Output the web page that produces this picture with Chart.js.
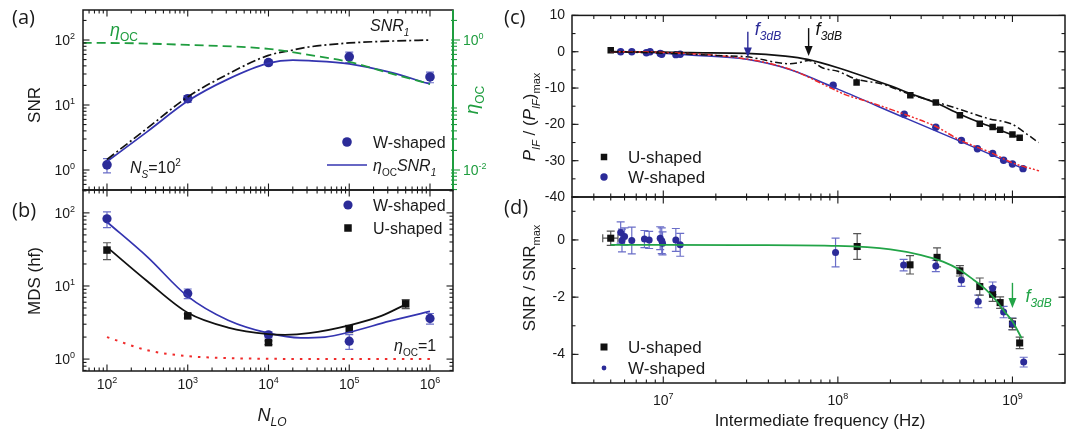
<!DOCTYPE html>
<html>
<head>
<meta charset="utf-8">
<title>SNR, MDS and IF response</title>
<script src="https://cdn.jsdelivr.net/npm/chart.js@4.4.1/dist/chart.umd.min.js"></script>
<style>
body{margin:0;background:#fff;}
#fig{position:relative;width:1077px;height:435px;}
#fig canvas{position:absolute;left:0;top:0;}
</style>
</head>
<body>
<div id="fig">
<canvas id="chartA" width="1077" height="435"></canvas>
<canvas id="chartB" width="1077" height="435"></canvas>
<canvas id="chartC" width="1077" height="435"></canvas>
<canvas id="chartD" width="1077" height="435"></canvas>
</div>
<script>
// ---------- panel (a): SNR vs N_LO ----------
const aTicksX = [1e2, 1e3, 1e4, 1e5, 1e6];
const aTicksY = [1, 10, 100];
const aTicksEta = [0.01, 1];
const aPointX = [1e2, 1e3, 1e4, 1e5, 1e6];
const aSnrW = [1.2, 12.5, 45, 55, 27];
const aSnrWErr = [0.3, 1.5, 4, 10, 5];
const aCurveX = [1e2, 3.16e2, 1e3, 3.16e3, 1e4, 2e4, 3.16e4, 1e5, 3.16e5, 1e6];
const aSnr1 = [1.45, 4.4, 13.3, 30, 58, 70, 78, 90, 96, 100];
const aEtaSnr1 = [1.35, 3.9, 11.5, 25, 44, 49, 48, 43, 32, 21];
const aEtaX = [5e1, 1e2, 1e3, 1e4, 3.16e4, 1e5, 3.16e5, 1e6];
const aEta = [0.9, 0.9, 0.84, 0.73, 0.59, 0.46, 0.31, 0.21];

// ---------- panel (b): MDS vs N_LO ----------
const bTicksX = [1e2, 1e3, 1e4, 1e5, 1e6];
const bTicksY = [1, 10, 100];
const bWx = [1e2, 1e3, 1e4, 1e5, 1e6];
const bW = [83, 7.9, 2.15, 1.76, 3.6];
const bWErr = [20, 1.2, 0.2, 0.4, 0.6];
const bUx = [1e2, 1e3, 1e4, 1e5, 5e5];
const bU = [31, 3.9, 1.68, 2.6, 5.7];
const bUErr = [8, 0.25, 0.1, 0.3, 0.8];
const bBlueX = [1e2, 3.16e2, 1e3, 3.16e3, 1e4, 2.5e4, 5e4, 1e5, 3.16e5, 1e6];
const bBlue = [75, 25, 7.2, 3.4, 2.26, 1.95, 2.0, 2.33, 3.3, 4.5];
const bBlackX = [1e2, 3.16e2, 1e3, 3.16e3, 1e4, 1.6e4, 3.16e4, 1e5, 2.5e5, 5e5];
const bBlack = [34, 11.6, 4.3, 2.7, 2.19, 2.15, 2.26, 2.9, 3.9, 5.6];
const bRedX = [1e2, 3.16e2, 1e3, 3.16e3, 1e4, 1e5, 1e6];
const bRed = [2.0, 1.32, 1.1, 1.03, 1.01, 1.0, 1.0];

// ---------- panel (c): P_IF / (P_IF)max vs IF ----------
const cTicksX = [1e7, 1e8, 1e9];
const cTicksY = [10, 0, -10, -20, -30, -40];
const cUx = [5.0e6, 1.28e8, 2.6e8, 3.64e8, 5.0e8, 6.5e8, 7.7e8, 8.5e8, 1.0e9, 1.1e9];
const cU = [0.4, -8.5, -12.0, -14.0, -17.5, -19.8, -20.7, -21.5, -22.8, -23.7];
const cWx = [5.7e6, 6.6e6, 8.0e6, 8.4e6, 9.6e6, 9.8e6, 1.18e7, 1.25e7, 9.4e7, 2.4e8, 3.64e8, 5.1e8, 6.3e8, 7.7e8, 8.9e8, 1.0e9, 1.15e9];
const cW = [0, 0, -0.3, 0, -0.5, -0.7, -0.8, -0.7, -9.2, -17.2, -20.8, -24.4, -26.7, -28.0, -29.9, -30.9, -32.2];
const cUfitX = [5e6, 1e7, 1.4e7, 3e7, 5e7, 6.7e7, 1e8, 2e8, 2.6e8, 3.6e8, 5e8, 6.5e8, 8.5e8, 1.1e9];
const cUfit = [0, -0.1, -0.27, -0.45, -1.2, -2.1, -4.4, -9.4, -11.5, -14.0, -17.2, -19.5, -21.6, -23.7];
const cUsimX = [5e6, 1e7, 2.2e7, 3e7, 5.3e7, 6e7, 6.8e7, 8.2e7, 1e8, 1.28e8, 1.8e8, 2.6e8, 3.4e8, 4.8e8, 7.4e8, 9.9e8, 1.22e9, 1.41e9];
const cUsim = [0, -0.4, -1.1, -1.4, -3.3, -3.0, -2.4, -4.5, -5.4, -7.6, -8.9, -11.8, -13.4, -15.6, -18.5, -19.9, -22.8, -25.0];
const cWfitX = [5e6, 1e7, 1.4e7, 3e7, 5.3e7, 1e8, 2.5e8, 5e8, 1.15e9];
const cWfit = [0, -0.4, -0.9, -2.1, -4.9, -10.3, -18.5, -24.6, -32.2];
const cWsimX = [5e6, 1e7, 3e7, 5.3e7, 9.4e7, 1.1e8, 1.5e8, 2.4e8, 3.64e8, 5e8, 7.7e8, 1e9, 1.42e9];
const cWsim = [0, -0.2, -2.0, -4.8, -10.3, -11.8, -13.8, -17.2, -20.6, -24.3, -28.0, -30.6, -32.8];
const cArrowX = [3.05e7, 6.8e7];
const cArrowTop = [5.5, 6.5];
const cArrowTip = [-1.6, -1.2];

// ---------- panel (d): SNR / SNRmax vs IF ----------
const dTicksX = [1e7, 1e8, 1e9];
const dTicksY = [0, -2, -4];
const dUx = [5.0e6, 1.29e8, 2.59e8, 3.7e8, 5.0e8, 6.5e8, 7.7e8, 8.5e8, 1.0e9, 1.1e9];
const dU = [0.06, -0.23, -0.87, -0.61, -1.08, -1.63, -1.9, -2.19, -2.94, -3.6];
const dUErr = [0.25, 0.45, 0.32, 0.33, 0.18, 0.3, 0.25, 0.2, 0.2, 0.2];
const dUErrX = [0.5e6, 0, 0, 0, 0, 0, 0, 0, 0, 0];
const dWx = [5.7e6, 5.8e6, 6.0e6, 6.6e6, 7.8e6, 8.3e6, 9.6e6, 9.8e6, 9.9e6, 1.18e7, 1.25e7, 9.7e7, 2.38e8, 3.64e8, 5.1e8, 6.37e8, 7.7e8, 8.9e8, 1.0e9, 1.16e9];
const dW = [0.26, -0.02, 0.12, -0.02, 0.03, 0.0, 0.06, -0.03, -0.12, 0.0, -0.17, -0.44, -0.88, -0.91, -1.4, -2.15, -1.69, -2.52, -2.93, -4.27];
const dWErr = [0.37, 0.4, 0.3, 0.47, 0.3, 0.3, 0.4, 0.45, 0.4, 0.4, 0.4, 0.5, 0.2, 0.2, 0.22, 0.22, 0.22, 0.2, 0.2, 0.17];
const dFitX = [5e6, 1e7, 3e7, 1e8, 2e8, 3e8, 4e8, 5e8, 6e8, 7e8, 8e8, 9e8, 1e9, 1.13e9];
const dFit = [-0.17, -0.17, -0.18, -0.21, -0.33, -0.53, -0.76, -1.05, -1.4, -1.72, -2.09, -2.5, -2.85, -3.44];
const dArrowX = [1e9];
const dArrowTop = [-1.5];
const dArrowTip = [-2.38];

// ---------- look ----------
const W = 1077, H = 435;
const FONT = '"Liberation Sans", Arial, sans-serif';
const PANEL_FONT = '"Open Sans", "Liberation Sans", sans-serif';
const INK = '#1a1a1a';
const BLUE = '#2b2b98';
const BLUE_LINE = '#3434b0';
const BLUE_ERR = '#6a6ec8';
const GREY_ERR = '#555555';
const GREEN = '#1f9d3f';
const RED = '#f02a2a';

const areaA = {l: 83, t: 10, r: 453, b: 190};
const areaB = {l: 83, t: 190, r: 453, b: 371};
const areaC = {l: 572, t: 12, r: 1065, b: 197};
const areaD = {l: 572, t: 197, r: 1065, b: 383};
// room kept for the left axis box (its tick labels live inside it)
const BOX_Y = 60;

const pts = (xs, ys) => xs.map((x, i) => ({x: x, y: ys[i]}));

function logMinor(lo, hi){
    const out = [];
    for(let e = Math.floor(Math.log10(lo)); e <= Math.ceil(Math.log10(hi)); e++){
        for(let m = 2; m <= 9; m++){
            const v = m * Math.pow(10, e);
            if(v > lo && v < hi) out.push(v);
        }
    }
    return out;
}
function steps(lo, hi, step){
    const out = [];
    for(let v = Math.ceil(lo / step) * step; v <= hi + 1e-9; v += step) out.push(+v.toFixed(6));
    return out;
}

function padFor(area, boxes){
    return {
        left: area.l - (boxes.left || 0),
        top: area.t,
        right: W - area.r - (boxes.right || 0),
        bottom: H - area.b - (boxes.bottom || 0)
    };
}

function axis(type, position, min, max, tickVals, opts){
    opts = opts || {};
    const vertical = position === 'left' || position === 'right';
    const box = opts.box || 0;
    return {
        type: type, position: position, min: min, max: max,
        grid: {display: false, drawTicks: false},
        border: {display: false},
        afterFit: s => { if(vertical){ s.width = box; } else { s.height = box; } },
        afterBuildTicks: s => { s.ticks = tickVals.map(v => ({value: v})); },
        ticks: {
            display: opts.show === true,
            autoSkip: false, maxRotation: 0, minRotation: 0,
            padding: opts.pad || 6,
            color: opts.color || INK,
            font: {family: FONT, size: opts.size || 14},
            callback: v => String(v)
        }
    };
}

function curve(data, color, width, dash, yAxisID){
    return {
        data: data, showLine: true, borderColor: color, borderWidth: width,
        borderDash: dash || [], pointRadius: 0, fill: false,
        cubicInterpolationMode: 'monotone', yAxisID: yAxisID || 'y'
    };
}
function marks(data, style, radius, color, errY, errColor, cap){
    return {
        data: data, showLine: false, pointStyle: style, pointRadius: radius,
        backgroundColor: color, borderColor: color, borderWidth: 0,
        errY: errY, errColor: errColor, capW: cap || 4
    };
}

// error bars drawn through the chart's own scales
const errorBars = {
    id: 'errorBars',
    beforeDatasetsDraw(chart){
        const ctx = chart.ctx;
        chart.data.datasets.forEach((ds, i) => {
            if(!ds.errY) return;
            const meta = chart.getDatasetMeta(i);
            const xs = chart.scales[meta.xAxisID], ys = chart.scales[meta.yAxisID];
            ctx.save();
            ctx.strokeStyle = ds.errColor;
            ctx.lineWidth = 1.2;
            ds.data.forEach((p, j) => {
                const e = ds.errY[j];
                const px = xs.getPixelForValue(p.x);
                const c = ds.capW;
                ctx.beginPath();
                if(e){
                    const top = ys.getPixelForValue(p.y + e), bot = ys.getPixelForValue(p.y - e);
                    ctx.moveTo(px, top); ctx.lineTo(px, bot);
                    ctx.moveTo(px - c, top); ctx.lineTo(px + c, top);
                    ctx.moveTo(px - c, bot); ctx.lineTo(px + c, bot);
                }
                if(ds.errX && ds.errX[j]){
                    const py = ys.getPixelForValue(p.y);
                    const l = xs.getPixelForValue(p.x - ds.errX[j]), r = xs.getPixelForValue(p.x + ds.errX[j]);
                    ctx.moveTo(l, py); ctx.lineTo(r, py);
                    ctx.moveTo(l, py - c); ctx.lineTo(l, py + c);
                    ctx.moveTo(r, py - c); ctx.lineTo(r, py + c);
                }
                ctx.stroke();
            });
            ctx.restore();
        });
    }
};
Chart.register(errorBars);

// text with italic / sub / superscript parts
function rich(ctx, parts, x, y, o){
    const size = o.size || 16;
    const fam = o.family || FONT;
    const font = st => (st.indexOf('i') >= 0 ? 'italic ' : '') +
        ((st.indexOf('s') >= 0 || st.indexOf('p') >= 0) ? Math.round(size * 0.64) : size) + 'px ' + fam;
    ctx.save();
    ctx.translate(x, y);
    if(o.rot) ctx.rotate(o.rot);
    ctx.fillStyle = o.color || INK;
    ctx.textBaseline = 'alphabetic';
    let w = 0;
    parts.forEach(p => { ctx.font = font(p[1] || ''); w += ctx.measureText(p[0]).width; });
    let cx = o.align === 'center' ? -w / 2 : (o.align === 'right' ? -w : 0);
    parts.forEach(p => {
        const st = p[1] || '';
        ctx.font = font(st);
        const dy = st.indexOf('s') >= 0 ? size * 0.3 : (st.indexOf('p') >= 0 ? -size * 0.42 : 0);
        ctx.fillText(p[0], cx, dy);
        cx += ctx.measureText(p[0]).width;
    });
    ctx.restore();
}

// box with inward ticks on every side, plus 10^n labels for log axes
function frame(cfg){
    return {
        id: 'frame',
        afterDatasetsDraw(chart){
            const ctx = chart.ctx, a = chart.chartArea;
            const sx = chart.scales.x, sy = chart.scales.y;
            const seg = (x0, y0, x1, y1) => { ctx.beginPath(); ctx.moveTo(x0, y0); ctx.lineTo(x1, y1); ctx.stroke(); };
            const inX = p => p >= a.left - 0.5 && p <= a.right + 0.5;
            const inY = p => p >= a.top - 0.5 && p <= a.bottom + 0.5;
            ctx.save();
            ctx.strokeStyle = INK;
            ctx.lineWidth = 1.1;
            [[cfg.xMajor, 6.5], [cfg.xMinor, 3.5]].forEach(([vals, len]) => vals.forEach(v => {
                const p = sx.getPixelForValue(v);
                if(!inX(p)) return;
                seg(p, a.bottom, p, a.bottom - len);
                seg(p, a.top, p, a.top + len);
            }));
            [[cfg.yMajor, 6.5], [cfg.yMinor, 3.5]].forEach(([vals, len]) => vals.forEach(v => {
                const p = sy.getPixelForValue(v);
                if(!inY(p)) return;
                seg(a.left, p, a.left + len, p);
                if(!cfg.y2) seg(a.right, p, a.right - len, p);
            }));
            if(cfg.y2){
                const s2 = chart.scales.y2;
                ctx.strokeStyle = cfg.y2.color;
                [[cfg.y2.major, 7], [cfg.y2.minor, 4]].forEach(([vals, len]) => vals.forEach(v => {
                    const p = s2.getPixelForValue(v);
                    if(!inY(p)) return;
                    seg(a.right - 2, p, a.right + len, p);
                }));
            }
            ctx.strokeStyle = INK;
            ctx.lineWidth = 1.5;
            ctx.strokeRect(a.left, a.top, a.right - a.left, a.bottom - a.top);
            if(cfg.y2){
                ctx.strokeStyle = cfg.y2.color;
                ctx.lineWidth = 2;
                seg(a.right, a.top, a.right, a.bottom);
            }
            ctx.restore();
            (cfg.labels || []).forEach(L => {
                const s = chart.scales[L.scale];
                L.vals.forEach(v => {
                    const p = s.getPixelForValue(v);
                    const parts = [['10'], [String(Math.round(Math.log10(v))), 'p']];
                    const o = {size: 14, color: L.color || INK};
                    if(L.side === 'left') rich(ctx, parts, a.left - L.pad, p + 5, Object.assign(o, {align: 'right'}));
                    else if(L.side === 'right') rich(ctx, parts, a.right + L.pad, p + 5, o);
                    else rich(ctx, parts, p, a.bottom + L.pad, Object.assign(o, {align: 'center'}));
                });
            });
        }
    };
}

function dot(ctx, x, y, r, color){
    ctx.save(); ctx.fillStyle = color; ctx.beginPath(); ctx.arc(x, y, r, 0, Math.PI * 2); ctx.fill(); ctx.restore();
}
function square(ctx, x, y, side, color){
    ctx.save(); ctx.fillStyle = color; ctx.fillRect(x - side / 2, y - side / 2, side, side); ctx.restore();
}
function arrowDown(ctx, x, y0, y1, color){
    ctx.save();
    ctx.strokeStyle = color; ctx.fillStyle = color; ctx.lineWidth = 1.4;
    ctx.beginPath(); ctx.moveTo(x, y0); ctx.lineTo(x, y1 - 8); ctx.stroke();
    ctx.beginPath(); ctx.moveTo(x - 4, y1 - 10); ctx.lineTo(x + 4, y1 - 10); ctx.lineTo(x, y1); ctx.closePath(); ctx.fill();
    ctx.restore();
}

function baseOptions(area, boxes, scales){
    return {
        responsive: false, animation: false, devicePixelRatio: 1, events: [],
        layout: {padding: padFor(area, boxes)},
        plugins: {legend: {display: false}, tooltip: {enabled: false}},
        scales: scales
    };
}

// ---------- (a) ----------
const aX = [Math.pow(10, 1.703), Math.pow(10, 6.285)];
const aY = [Math.pow(10, -0.3077), Math.pow(10, 2.4615)];
new Chart(document.getElementById('chartA'), {
    type: 'scatter',
    data: {datasets: [
        curve(pts(aEtaX, aEta), GREEN, 1.8, [9, 5], 'y2'),
        curve(pts(aCurveX, aSnr1), '#111111', 1.7, [9, 3, 2, 3]),
        curve(pts(aCurveX, aEtaSnr1), BLUE_LINE, 1.7),
        marks(pts(aPointX, aSnrW), 'circle', 4.8, BLUE, aSnrWErr, BLUE_ERR, 4)
    ]},
    options: baseOptions(areaA, {}, {
        x: axis('logarithmic', 'bottom', aX[0], aX[1], aTicksX),
        y: axis('logarithmic', 'left', aY[0], aY[1], aTicksY),
        y2: axis('logarithmic', 'right', aY[0] / 100, aY[1] / 100, aTicksEta)
    }),
    plugins: [frame({
        xMajor: aTicksX, xMinor: logMinor(aX[0], aX[1]),
        yMajor: aTicksY, yMinor: logMinor(aY[0], aY[1]),
        y2: {major: aTicksEta, minor: logMinor(aY[0] / 100, aY[1] / 100), color: GREEN},
        labels: [
            {scale: 'y', vals: aTicksY, side: 'left', pad: 8},
            {scale: 'y2', vals: aTicksEta, side: 'right', pad: 10, color: GREEN}
        ]
    }), {
        id: 'notesA',
        afterDraw(chart){
            const ctx = chart.ctx;
            rich(ctx, [['(a)']], 12, 24, {size: 20, family: PANEL_FONT});
            rich(ctx, [['SNR']], 40, 105, {size: 17, rot: -Math.PI / 2, align: 'center'});
            rich(ctx, [['\u03b7', 'i'], ['OC', 's']], 478, 100, {size: 19, rot: -Math.PI / 2, align: 'center', color: GREEN});
            rich(ctx, [['SNR', 'i'], ['1', 'is']], 370, 31, {size: 16});
            rich(ctx, [['\u03b7', 'i'], ['OC', 's']], 110, 36, {size: 18, color: GREEN});
            rich(ctx, [['N', 'i'], ['S', 'is'], ['=10'], ['2', 'p']], 130, 173, {size: 16});
            dot(ctx, 347, 142, 4.8, BLUE);
            rich(ctx, [['W-shaped']], 373, 148, {size: 16});
            ctx.save(); ctx.strokeStyle = BLUE_LINE; ctx.lineWidth = 1.7;
            ctx.beginPath(); ctx.moveTo(327, 165); ctx.lineTo(367, 165); ctx.stroke(); ctx.restore();
            rich(ctx, [['\u03b7', 'i'], ['OC', 's'], ['SNR', 'i'], ['1', 'is']], 373, 171, {size: 16});
        }
    }]
});

// ---------- (b) ----------
const bX = aX;
const bY = [Math.pow(10, -0.163), Math.pow(10, 2.313)];
new Chart(document.getElementById('chartB'), {
    type: 'scatter',
    data: {datasets: [
        curve(pts(bRedX, bRed), RED, 2, [2.5, 6]),
        curve(pts(bBlackX, bBlack), '#111111', 1.8),
        curve(pts(bBlueX, bBlue), BLUE_LINE, 1.7),
        marks(pts(bUx, bU), 'rect', 5.3, '#111111', bUErr, GREY_ERR, 4),
        marks(pts(bWx, bW), 'circle', 4.6, BLUE, bWErr, BLUE_ERR, 4)
    ]},
    options: baseOptions(areaB, {}, {
        x: axis('logarithmic', 'bottom', bX[0], bX[1], bTicksX),
        y: axis('logarithmic', 'left', bY[0], bY[1], bTicksY)
    }),
    plugins: [frame({
        xMajor: bTicksX, xMinor: logMinor(bX[0], bX[1]),
        yMajor: bTicksY, yMinor: logMinor(bY[0], bY[1]),
        labels: [
            {scale: 'y', vals: bTicksY, side: 'left', pad: 8},
            {scale: 'x', vals: bTicksX, side: 'bottom', pad: 18}
        ]
    }), {
        id: 'notesB',
        afterDraw(chart){
            const ctx = chart.ctx;
            rich(ctx, [['(b)']], 12, 217, {size: 20, family: PANEL_FONT});
            rich(ctx, [['MDS (hf)']], 40, 281, {size: 17, rot: -Math.PI / 2, align: 'center'});
            dot(ctx, 348, 205, 4.6, BLUE);
            rich(ctx, [['W-shaped']], 373, 211, {size: 16});
            square(ctx, 348, 228, 7.5, '#111111');
            rich(ctx, [['U-shaped']], 373, 234, {size: 16});
            rich(ctx, [['\u03b7', 'i'], ['OC', 's'], ['=1']], 394, 351, {size: 16});
            rich(ctx, [['N', 'i'], ['LO', 'is']], 272, 421, {size: 18, align: 'center'});
        }
    }]
});

// ---------- (c) ----------
const cX = [3.0e6, 2.0e9];
const cY = [-40, 10];
new Chart(document.getElementById('chartC'), {
    type: 'scatter',
    data: {datasets: [
        curve(pts(cUsimX, cUsim), '#111111', 1.5, [7, 3, 2, 3]),
        curve(pts(cWsimX, cWsim), RED, 1.5, [6, 2, 2, 2, 2, 2]),
        curve(pts(cUfitX, cUfit), '#111111', 1.7),
        curve(pts(cWfitX, cWfit), BLUE_LINE, 1.5),
        marks(pts(cUx, cU), 'rect', 4.6, '#111111'),
        marks(pts(cWx, cW), 'circle', 3.7, BLUE)
    ]},
    options: baseOptions(areaC, {left: BOX_Y}, {
        x: axis('logarithmic', 'bottom', cX[0], cX[1], cTicksX),
        y: axis('linear', 'left', cY[0], cY[1], cTicksY, {show: true, size: 14, pad: 7, box: BOX_Y})
    }),
    plugins: [frame({
        xMajor: cTicksX, xMinor: logMinor(cX[0], cX[1]),
        yMajor: cTicksY, yMinor: steps(cY[0], cY[1], 5)
    }), {
        id: 'notesC',
        afterDraw(chart){
            const ctx = chart.ctx, sx = chart.scales.x, sy = chart.scales.y;
            rich(ctx, [['(c)']], 504, 24, {size: 20, family: PANEL_FONT});
            rich(ctx, [['P', 'i'], ['IF', 'is'], [' / ('], ['P', 'i'], ['IF', 'is'], [')'], ['max', 's']], 535, 117, {size: 17, rot: -Math.PI / 2, align: 'center'});
            const arrowColors = [BLUE, '#111111'];
            cArrowX.forEach((f, i) => {
                const x = sx.getPixelForValue(f);
                arrowDown(ctx, x, sy.getPixelForValue(cArrowTop[i]), sy.getPixelForValue(cArrowTip[i]), arrowColors[i]);
                rich(ctx, [['f', 'i'], ['3dB', 'is']], x + 7, 35, {size: 18, color: arrowColors[i]});
            });
            square(ctx, 604, 157, 6.5, '#111111');
            rich(ctx, [['U-shaped']], 628, 163, {size: 17});
            dot(ctx, 604, 177, 3.7, BLUE);
            rich(ctx, [['W-shaped']], 628, 183, {size: 17});
        }
    }]
});

// ---------- (d) ----------
const dX = cX;
const dY = [-5, 1.5];
new Chart(document.getElementById('chartD'), {
    type: 'scatter',
    data: {datasets: [
        curve(pts(dFitX, dFit), '#22a447', 1.8),
        marks(pts(dWx, dW), 'circle', 3.5, BLUE, dWErr, BLUE_ERR, 4),
        Object.assign(marks(pts(dUx, dU), 'rect', 5, '#111111', dUErr, GREY_ERR, 4), {errX: dUErrX})
    ]},
    options: baseOptions(areaD, {left: BOX_Y}, {
        x: axis('logarithmic', 'bottom', dX[0], dX[1], dTicksX),
        y: axis('linear', 'left', dY[0], dY[1], dTicksY, {show: true, size: 14, pad: 7, box: BOX_Y})
    }),
    plugins: [frame({
        xMajor: dTicksX, xMinor: logMinor(dX[0], dX[1]),
        yMajor: dTicksY, yMinor: steps(dY[0], dY[1], 1),
        labels: [{scale: 'x', vals: dTicksX, side: 'bottom', pad: 22}]
    }), {
        id: 'notesD',
        afterDraw(chart){
            const ctx = chart.ctx, sx = chart.scales.x, sy = chart.scales.y;
            rich(ctx, [['(d)']], 504, 214, {size: 20, family: PANEL_FONT});
            rich(ctx, [['SNR / SNR'], ['max', 's']], 535, 278, {size: 17, rot: -Math.PI / 2, align: 'center'});
            rich(ctx, [['Intermediate frequency (Hz)']], 820, 426, {size: 17, align: 'center'});
            dArrowX.forEach((f, i) => {
                const x = sx.getPixelForValue(f);
                arrowDown(ctx, x, sy.getPixelForValue(dArrowTop[i]), sy.getPixelForValue(dArrowTip[i]), '#22a447');
                rich(ctx, [['f', 'i'], ['3dB', 'is']], x + 13, 302, {size: 18, color: '#22a447'});
            });
            square(ctx, 604, 347, 7, '#111111');
            rich(ctx, [['U-shaped']], 628, 353, {size: 17});
            dot(ctx, 604, 368, 2.4, BLUE);
            rich(ctx, [['W-shaped']], 628, 374, {size: 17});
        }
    }]
});
</script>
</body>
</html>
